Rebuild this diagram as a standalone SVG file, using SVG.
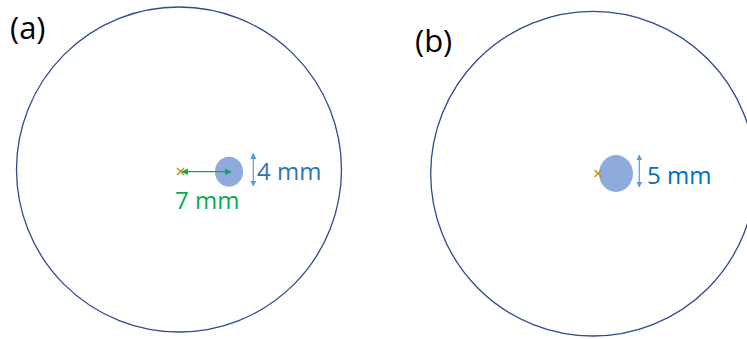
<svg xmlns="http://www.w3.org/2000/svg" width="747" height="339" viewBox="0 0 747 339">
<defs>
<style>
.big{fill:none;stroke:#2F4A8F;stroke-width:1.3}
.spot{fill:#8FAADC}
.cross{stroke:#BF9000;stroke-width:1.3;fill:none}
.lbl{font-family:"Open Sans","Liberation Sans",sans-serif;font-size:31px;fill:#000}
.dim{font-family:"Open Sans","Liberation Sans",sans-serif;font-size:24px}
.blue{fill:#2E75B6}
.green{fill:#00B050}
.barrow{stroke:#5B9BD5;stroke-width:1.2;fill:none}
.garrow{stroke:#00B050;stroke-width:1.3;fill:none}
</style>
<marker id="bh" viewBox="0 0 10 10" refX="9" refY="5" markerWidth="5" markerHeight="5" orient="auto-start-reverse"><path d="M0,0 L10,5 L0,10 z" fill="#5B9BD5"/></marker>
<marker id="gh" viewBox="0 0 10 10" refX="9" refY="5" markerWidth="5" markerHeight="5" orient="auto-start-reverse"><path d="M0,0 L10,5 L0,10 z" fill="#00B050"/></marker>
</defs>
<g id="panel-a">
<text class="lbl" x="10" y="39">(a)</text>
<circle class="big" cx="179" cy="169.5" r="162.5"/>
<ellipse class="spot" cx="229" cy="171.7" rx="14" ry="15"/>
<path class="cross" d="M177,168 L184,175 M177,175 L184,168"/>
<text class="dim blue" x="257" y="180">4 mm</text>
<text class="dim green" x="175" y="209">7 mm</text>
</g>
<g id="panel-b">
<text class="lbl" x="415" y="52">(b)</text>
<circle class="big" cx="593" cy="173.7" r="162.3"/>
<ellipse class="spot" cx="616" cy="173.5" rx="17" ry="18.5"/>
<path class="cross" d="M594.5,170 L601.5,177 M594.5,177 L601.5,170"/>
<text class="dim blue" x="647" y="184" style="fill:#0070C0">5 mm</text>
</g>
<g id="connectors">
<line class="garrow" x1="182" y1="171.7" x2="231" y2="171.7" marker-start="url(#gh)" marker-end="url(#gh)"/>
<line class="barrow" x1="253.3" y1="153.5" x2="253.3" y2="186" marker-start="url(#bh)" marker-end="url(#bh)"/>
<line class="barrow" x1="639.3" y1="155" x2="639.3" y2="187" marker-start="url(#bh)" marker-end="url(#bh)"/>
</g>
</svg>
